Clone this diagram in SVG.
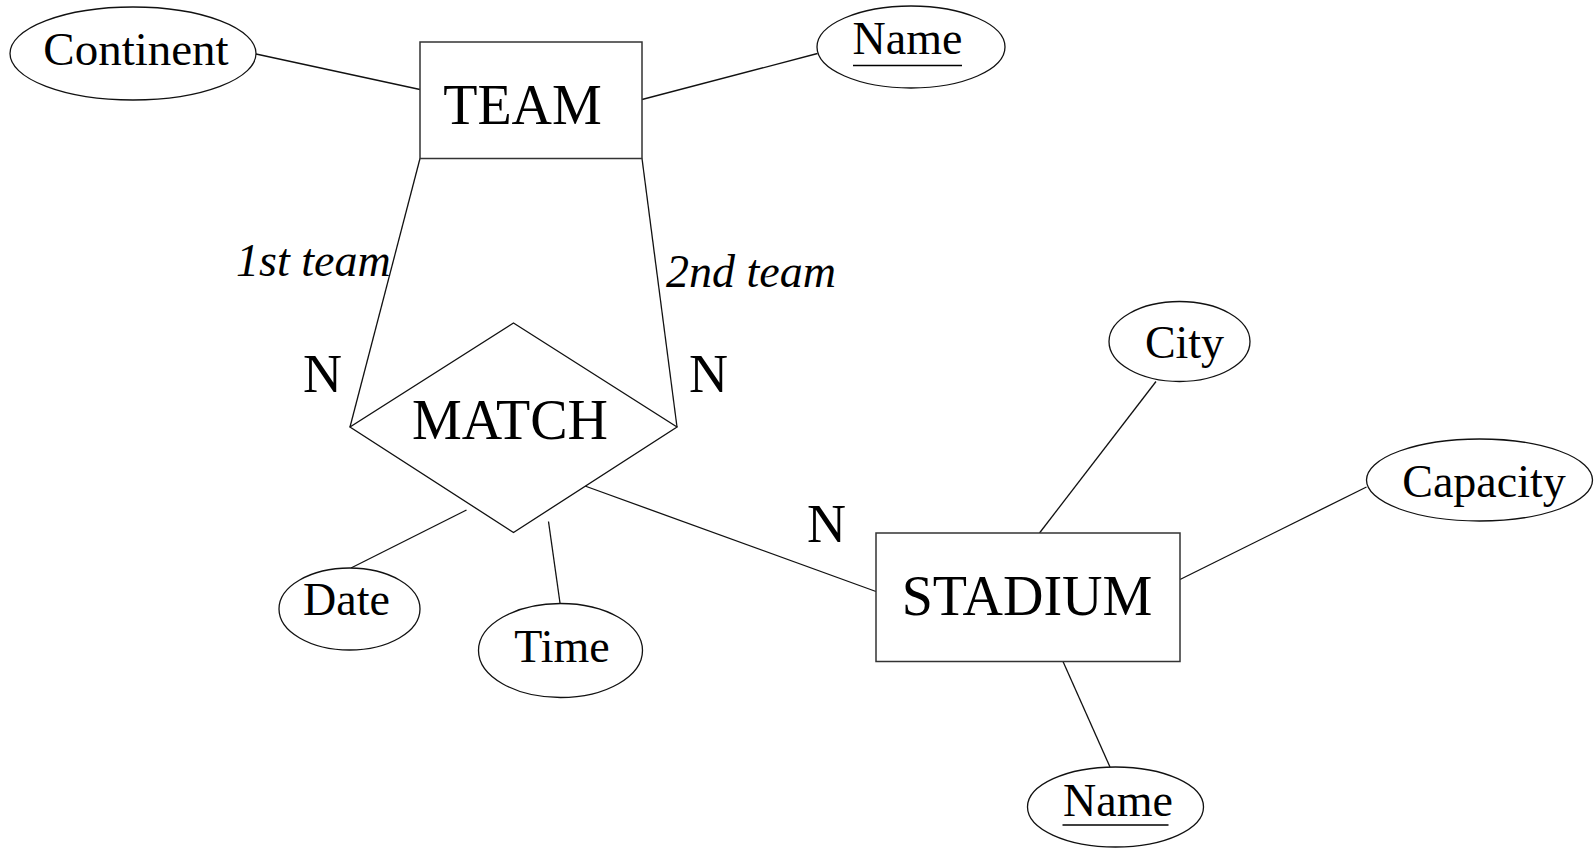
<svg xmlns="http://www.w3.org/2000/svg" width="1594" height="848" viewBox="0 0 1594 848">
  <style>
    .bg { fill: #ffffff; }
    .edge { stroke: #111; stroke-width: 1.3; fill: none; }
    .entity { fill: #fff; stroke: #333; stroke-width: 1.5; }
    .attr { fill: #fff; stroke: #111; stroke-width: 1.3; }
    .rel { fill: #fff; stroke: #111; stroke-width: 1.3; }
    text { font-family: "Liberation Serif", "Times New Roman", serif; fill: #000; }
    .big { font-size: 56px; text-anchor: middle; }
    .att { font-size: 46px; text-anchor: middle; }
    .role { font-size: 46px; font-style: italic; }
    .card { font-size: 54px; }
    .key { stroke: #000; stroke-width: 1.5; }
  </style>
  <rect class="bg" x="0" y="0" width="1594" height="848"/>

  <!-- connectors -->
  <g id="connectors">
    <line class="edge" x1="256" y1="54" x2="420" y2="89.5"/>
    <line class="edge" x1="642" y1="99.5" x2="817.5" y2="53.5"/>
    <line class="edge" x1="420" y1="158.5" x2="350" y2="427"/>
    <line class="edge" x1="642" y1="158.5" x2="677" y2="427"/>
    <line class="edge" x1="585" y1="486" x2="876" y2="591.5"/>
    <line class="edge" x1="466.5" y1="510" x2="351" y2="568"/>
    <line class="edge" x1="548.5" y1="521.5" x2="560" y2="603"/>
    <line class="edge" x1="1156" y1="381.5" x2="1039.5" y2="533"/>
    <line class="edge" x1="1366.5" y1="487" x2="1180" y2="579.5"/>
    <line class="edge" x1="1063" y1="661.5" x2="1110" y2="767"/>
  </g>

  <!-- role and cardinality labels -->
  <g id="labels">
    <text class="role" x="236" y="276">1st team</text>
    <text class="role" x="666" y="287">2nd team</text>
    <text class="card" x="303" y="392">N</text>
    <text class="card" x="689" y="392">N</text>
    <text class="card" x="807" y="542">N</text>
  </g>

  <!-- entities -->
  <g id="team">
    <rect class="entity" x="420" y="42" width="222" height="116.5"/>
    <text class="big" x="522.5" y="124">TEAM</text>
  </g>
  <g id="stadium">
    <rect class="entity" x="876" y="533" width="304" height="128.5"/>
    <text class="big" x="1027" y="615">STADIUM</text>
  </g>

  <!-- relationship -->
  <g id="match">
    <polygon class="rel" points="513.5,323 677,427 513.5,532.5 350,427"/>
    <text class="big" x="510" y="439">MATCH</text>
  </g>

  <!-- attributes -->
  <g id="team-continent">
    <ellipse class="attr" cx="133" cy="53.5" rx="123" ry="46.5"/>
    <text class="att" x="136" y="65" style="font-size:47px">Continent</text>
  </g>
  <g id="team-name">
    <ellipse class="attr" cx="911" cy="47" rx="94" ry="41"/>
    <text class="att" x="907.5" y="53.5">Name</text>
    <line class="key" x1="853" y1="65.5" x2="962" y2="65.5"/>
  </g>
  <g id="match-date">
    <ellipse class="attr" cx="349.5" cy="609" rx="70.5" ry="41"/>
    <text class="att" x="346.5" y="615">Date</text>
  </g>
  <g id="match-time">
    <ellipse class="attr" cx="560.5" cy="650.5" rx="82" ry="47"/>
    <text class="att" x="562" y="661.5">Time</text>
  </g>
  <g id="stadium-city">
    <ellipse class="attr" cx="1179.5" cy="341.5" rx="70.5" ry="40"/>
    <text class="att" x="1184.5" y="358">City</text>
  </g>
  <g id="stadium-capacity">
    <ellipse class="attr" cx="1479.5" cy="480" rx="113" ry="41"/>
    <text class="att" x="1484" y="496.5">Capacity</text>
  </g>
  <g id="stadium-name">
    <ellipse class="attr" cx="1115.5" cy="807" rx="88" ry="40"/>
    <text class="att" x="1118" y="815.5">Name</text>
    <line class="key" x1="1062.5" y1="825" x2="1168.5" y2="825"/>
  </g>
</svg>
